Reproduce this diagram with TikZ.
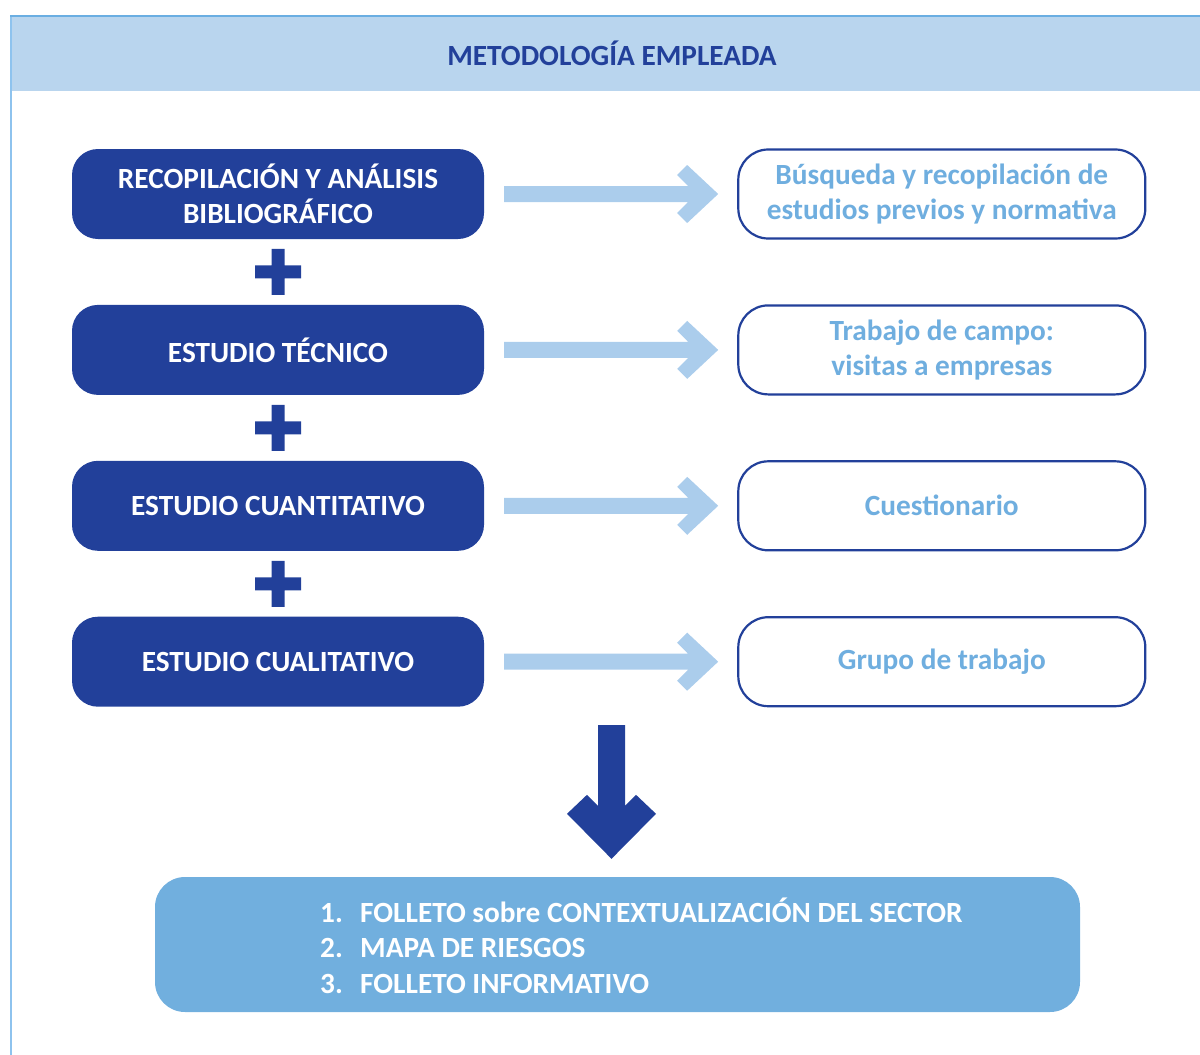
\documentclass[tikz,border=0pt]{standalone}
\usepackage{fontspec}
\setmainfont{Carlito}
\usepackage{tikz}
\usetikzlibrary{positioning,calc}
\definecolor{azul}{HTML}{22409A}
\definecolor{celeste}{HTML}{ABCDEC}
\definecolor{textoclaro}{HTML}{6FAEDF}
\definecolor{cabecera}{HTML}{B9D5EE}
\definecolor{resultado}{HTML}{71AFDE}
\definecolor{bordesup}{HTML}{6AAEE2}
\definecolor{bordeizq}{HTML}{8EC3EE}

\begin{document}
\begin{tikzpicture}[x=1pt,y=-1pt,node distance=65.5pt and 253pt,
	every node/.style={font=\fontsize{29.3}{35.5}\selectfont\bfseries},
	estudio/.style={rectangle,rounded corners=26pt,fill=azul,text=white,minimum width=412pt,minimum height=90pt,align=center},
	tarea/.style={rectangle,rounded corners=30pt,draw=azul,line width=2.2pt,fill=white,text=textoclaro,minimum width=407pt,minimum height=89pt,align=center},
	resumen/.style={rectangle,rounded corners=30pt,fill=resultado,minimum width=925pt,minimum height=135pt},
	flecha/.style={fill=celeste,to path={
		($(\tikztostart)+(20pt,8pt)$) -- ($(\tikztotarget)+(-49pt,8pt)$)
		-- ($(\tikztotarget)+(-60pt,19pt)$) -- ($(\tikztotarget)+(-50pt,29pt)$)
		-- ($(\tikztotarget)+(-19pt,0pt)$) -- ($(\tikztotarget)+(-50pt,-29pt)$)
		-- ($(\tikztotarget)+(-60pt,-19pt)$) -- ($(\tikztotarget)+(-49pt,-8pt)$)
		-- ($(\tikztostart)+(20pt,-8pt)$) -- cycle}},
	flechagorda/.style={fill=azul,to path={
		($(\tikztostart)+(-13.5pt,0pt)$) -- ($(\tikztotarget)+(-13.5pt,71pt)$)
		-- ($(\tikztotarget)+(-24.5pt,82pt)$) -- ($(\tikztotarget)+(-44.5pt,63pt)$)
		-- ($(\tikztotarget)+(0pt,18pt)$) -- ($(\tikztotarget)+(44.5pt,63pt)$)
		-- ($(\tikztotarget)+(24.5pt,82pt)$) -- ($(\tikztotarget)+(13.5pt,71pt)$)
		-- ($(\tikztostart)+(13.5pt,0pt)$) -- cycle}}]
	\useasboundingbox (0,0) rectangle (1200,1055);
	% cabecera
	\fill[cabecera] (11,16) rectangle (1200,90.5);
	\draw[bordeizq,line width=2pt] (11,16) -- (11,1055);
	\draw[bordesup,line width=2pt] (10,16) -- (1200,16);
	\node[text=azul] (titulo) at (612,53) {METODOLOGÍA EMPLEADA};

	% estudios
	\node[estudio] (b1) at (278,194) {RECOPILACIÓN Y ANÁLISIS\\BIBLIOGRÁFICO};
	\node[estudio] (b2) [below=of b1] {ESTUDIO TÉCNICO};
	\node[estudio] (b3) [below=of b2] {ESTUDIO CUANTITATIVO};
	\node[estudio] (b4) [below=of b3] {ESTUDIO CUALITATIVO};

	\node[tarea] (r1) [right=of b1] {Búsqueda y recopilación de\\estudios previos y normativa};
	\node[tarea] (r2) [right=of b2] {Trabajo de campo:\\visitas a empresas};
	\node[tarea] (r3) [right=of b3] {Cuestionario};
	\node[tarea] (r4) [right=of b4] {Grupo de trabajo};

	\foreach \i in {1,...,4}
		\path[flecha] (b\i.east) to (r\i.west);

	\foreach \a/\b in {b1/b2,b2/b3,b3/b4}
		\fill[azul] ($(\a.south)!.5!(\b.north)$) +(-23,-6.5) rectangle +(23,6.5)
			+(-6.5,-23) rectangle +(6.5,23);

	% resultado
	\node[resumen] (res) at (617.5,944.5) {};
	\node[text=white,align=left,anchor=west,inner sep=0pt] (lista) at (320,945.5)
		{\makebox[40pt][l]{1.}FOLLETO sobre CONTEXTUALIZACIÓN DEL SECTOR\\
		 \makebox[40pt][l]{2.}MAPA DE RIESGOS\\
		 \makebox[40pt][l]{3.}FOLLETO INFORMATIVO};
	\coordinate (f0) at (611.5,725);
	\path[flechagorda] (f0) to (f0 |- res.north);
\end{tikzpicture}
\end{document}
